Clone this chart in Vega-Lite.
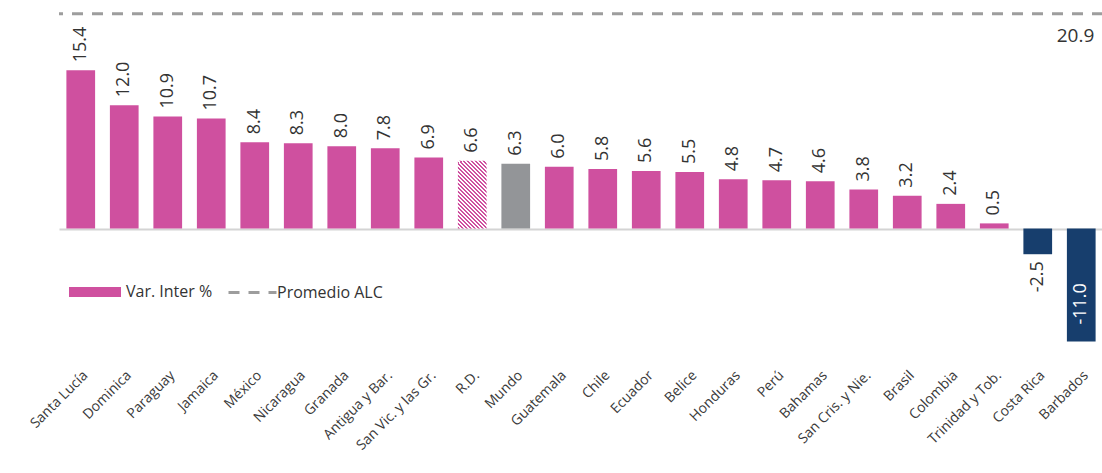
{
  "$schema": "https://vega.github.io/schema/vega-lite/v6.json",
  "width": 1044,
  "height": 352,
  "padding": {"left": 27, "top": 5, "right": 0, "bottom": 5},
  "background": "white",
  "config": {"view": {"stroke": null}, "font": "Open Sans"},
  "data": {
    "values": [
      {"pais": "Santa Lucía", "valor": 15.4, "etiqueta": "15.4", "grupo": "Var. Inter %"},
      {"pais": "Dominica", "valor": 12.0, "etiqueta": "12.0", "grupo": "Var. Inter %"},
      {"pais": "Paraguay", "valor": 10.9, "etiqueta": "10.9", "grupo": "Var. Inter %"},
      {"pais": "Jamaica", "valor": 10.7, "etiqueta": "10.7", "grupo": "Var. Inter %"},
      {"pais": "México", "valor": 8.4, "etiqueta": "8.4", "grupo": "Var. Inter %"},
      {"pais": "Nicaragua", "valor": 8.3, "etiqueta": "8.3", "grupo": "Var. Inter %"},
      {"pais": "Granada", "valor": 8.0, "etiqueta": "8.0", "grupo": "Var. Inter %"},
      {"pais": "Antigua y Bar.", "valor": 7.8, "etiqueta": "7.8", "grupo": "Var. Inter %"},
      {"pais": "San Vic. y las Gr.", "valor": 6.9, "etiqueta": "6.9", "grupo": "Var. Inter %"},
      {"pais": "R.D.", "valor": 6.6, "etiqueta": "6.6", "grupo": "R.D."},
      {"pais": "Mundo", "valor": 6.3, "etiqueta": "6.3", "grupo": "Mundo"},
      {"pais": "Guatemala", "valor": 6.0, "etiqueta": "6.0", "grupo": "Var. Inter %"},
      {"pais": "Chile", "valor": 5.8, "etiqueta": "5.8", "grupo": "Var. Inter %"},
      {"pais": "Ecuador", "valor": 5.6, "etiqueta": "5.6", "grupo": "Var. Inter %"},
      {"pais": "Belice", "valor": 5.5, "etiqueta": "5.5", "grupo": "Var. Inter %"},
      {"pais": "Honduras", "valor": 4.8, "etiqueta": "4.8", "grupo": "Var. Inter %"},
      {"pais": "Perú", "valor": 4.7, "etiqueta": "4.7", "grupo": "Var. Inter %"},
      {"pais": "Bahamas", "valor": 4.6, "etiqueta": "4.6", "grupo": "Var. Inter %"},
      {"pais": "San Cris. y Nie.", "valor": 3.8, "etiqueta": "3.8", "grupo": "Var. Inter %"},
      {"pais": "Brasil", "valor": 3.2, "etiqueta": "3.2", "grupo": "Var. Inter %"},
      {"pais": "Colombia", "valor": 2.4, "etiqueta": "2.4", "grupo": "Var. Inter %"},
      {"pais": "Trinidad y Tob.", "valor": 0.5, "etiqueta": "0.5", "grupo": "Var. Inter %"},
      {"pais": "Costa Rica", "valor": -2.5, "etiqueta": "-2.5", "grupo": "Negativo"},
      {"pais": "Barbados", "valor": -11.0, "etiqueta": "-11.0", "grupo": "Negativo"}
    ]
  },
  "layer": [
    {
      "transform": [{"filter": "datum.pais !== 'R.D.'"}],
      "mark": {"type": "bar"},
      "encoding": {
        "x": {
          "field": "pais",
          "type": "nominal",
          "sort": null,
          "scale": {
            "domain": ["Santa Lucía", "Dominica", "Paraguay", "Jamaica", "México", "Nicaragua", "Granada", "Antigua y Bar.", "San Vic. y las Gr.", "R.D.", "Mundo", "Guatemala", "Chile", "Ecuador", "Belice", "Honduras", "Perú", "Bahamas", "San Cris. y Nie.", "Brasil", "Colombia", "Trinidad y Tob.", "Costa Rica", "Barbados"],
            "paddingInner": 0.34,
            "paddingOuter": 0.17
          },
          "axis": {
            "title": null,
            "ticks": false,
            "domain": false,
            "labelAngle": -45,
            "labelFont": "Open Sans",
            "labelFontSize": 14,
            "labelColor": "#3a3a3a",
            "labelPadding": 11
          }
        },
        "y": {
          "field": "valor",
          "type": "quantitative",
          "scale": {"domain": [-12.5, 21.75], "nice": false, "zero": false},
          "axis": {
            "values": [0],
            "grid": true,
            "gridColor": "#d4d4d4",
            "gridWidth": 2,
            "labels": false,
            "ticks": false,
            "domain": false,
            "title": null
          }
        },
        "color": {
          "field": "grupo",
          "type": "nominal",
          "scale": {"domain": ["Var. Inter %", "Mundo", "Negativo"], "range": ["#cf509f", "#939598", "#173e6d"]},
          "legend": {
            "values": ["Var. Inter %"],
            "title": null,
            "orient": "none",
            "legendX": 26,
            "legendY": 277,
            "padding": 0,
            "symbolType": "M-2.6,-0.5H2.6V0.5H-2.6Z",
            "symbolSize": 400,
            "symbolStrokeWidth": 0,
            "labelOffset": 21,
            "labelFont": "Open Sans",
            "labelFontSize": 16,
            "labelColor": "#333333"
          }
        }
      }
    },
    {
      "transform": [{"filter": "datum.pais === 'R.D.'"}],
      "mark": {
        "type": "bar",
        "fill": {
          "gradient": "linear",
          "x1": 0, "y1": 1, "x2": 0.518, "y2": -0.207,
          "stops": [
            {"offset": 0, "color": "#cf509f"}, {"offset": 0.0208, "color": "#cf509f"}, {"offset": 0.0208, "color": "#ffffff"}, {"offset": 0.0417, "color": "#ffffff"},
            {"offset": 0.0417, "color": "#cf509f"}, {"offset": 0.0625, "color": "#cf509f"}, {"offset": 0.0625, "color": "#ffffff"}, {"offset": 0.0833, "color": "#ffffff"},
            {"offset": 0.0833, "color": "#cf509f"}, {"offset": 0.1042, "color": "#cf509f"}, {"offset": 0.1042, "color": "#ffffff"}, {"offset": 0.125, "color": "#ffffff"},
            {"offset": 0.125, "color": "#cf509f"}, {"offset": 0.1458, "color": "#cf509f"}, {"offset": 0.1458, "color": "#ffffff"}, {"offset": 0.1667, "color": "#ffffff"},
            {"offset": 0.1667, "color": "#cf509f"}, {"offset": 0.1875, "color": "#cf509f"}, {"offset": 0.1875, "color": "#ffffff"}, {"offset": 0.2083, "color": "#ffffff"},
            {"offset": 0.2083, "color": "#cf509f"}, {"offset": 0.2292, "color": "#cf509f"}, {"offset": 0.2292, "color": "#ffffff"}, {"offset": 0.25, "color": "#ffffff"},
            {"offset": 0.25, "color": "#cf509f"}, {"offset": 0.2708, "color": "#cf509f"}, {"offset": 0.2708, "color": "#ffffff"}, {"offset": 0.2917, "color": "#ffffff"},
            {"offset": 0.2917, "color": "#cf509f"}, {"offset": 0.3125, "color": "#cf509f"}, {"offset": 0.3125, "color": "#ffffff"}, {"offset": 0.3333, "color": "#ffffff"},
            {"offset": 0.3333, "color": "#cf509f"}, {"offset": 0.3542, "color": "#cf509f"}, {"offset": 0.3542, "color": "#ffffff"}, {"offset": 0.375, "color": "#ffffff"},
            {"offset": 0.375, "color": "#cf509f"}, {"offset": 0.3958, "color": "#cf509f"}, {"offset": 0.3958, "color": "#ffffff"}, {"offset": 0.4167, "color": "#ffffff"},
            {"offset": 0.4167, "color": "#cf509f"}, {"offset": 0.4375, "color": "#cf509f"}, {"offset": 0.4375, "color": "#ffffff"}, {"offset": 0.4583, "color": "#ffffff"},
            {"offset": 0.4583, "color": "#cf509f"}, {"offset": 0.4792, "color": "#cf509f"}, {"offset": 0.4792, "color": "#ffffff"}, {"offset": 0.5, "color": "#ffffff"},
            {"offset": 0.5, "color": "#cf509f"}, {"offset": 0.5208, "color": "#cf509f"}, {"offset": 0.5208, "color": "#ffffff"}, {"offset": 0.5417, "color": "#ffffff"},
            {"offset": 0.5417, "color": "#cf509f"}, {"offset": 0.5625, "color": "#cf509f"}, {"offset": 0.5625, "color": "#ffffff"}, {"offset": 0.5833, "color": "#ffffff"},
            {"offset": 0.5833, "color": "#cf509f"}, {"offset": 0.6042, "color": "#cf509f"}, {"offset": 0.6042, "color": "#ffffff"}, {"offset": 0.625, "color": "#ffffff"},
            {"offset": 0.625, "color": "#cf509f"}, {"offset": 0.6458, "color": "#cf509f"}, {"offset": 0.6458, "color": "#ffffff"}, {"offset": 0.6667, "color": "#ffffff"},
            {"offset": 0.6667, "color": "#cf509f"}, {"offset": 0.6875, "color": "#cf509f"}, {"offset": 0.6875, "color": "#ffffff"}, {"offset": 0.7083, "color": "#ffffff"},
            {"offset": 0.7083, "color": "#cf509f"}, {"offset": 0.7292, "color": "#cf509f"}, {"offset": 0.7292, "color": "#ffffff"}, {"offset": 0.75, "color": "#ffffff"},
            {"offset": 0.75, "color": "#cf509f"}, {"offset": 0.7708, "color": "#cf509f"}, {"offset": 0.7708, "color": "#ffffff"}, {"offset": 0.7917, "color": "#ffffff"},
            {"offset": 0.7917, "color": "#cf509f"}, {"offset": 0.8125, "color": "#cf509f"}, {"offset": 0.8125, "color": "#ffffff"}, {"offset": 0.8333, "color": "#ffffff"},
            {"offset": 0.8333, "color": "#cf509f"}, {"offset": 0.8542, "color": "#cf509f"}, {"offset": 0.8542, "color": "#ffffff"}, {"offset": 0.875, "color": "#ffffff"},
            {"offset": 0.875, "color": "#cf509f"}, {"offset": 0.8958, "color": "#cf509f"}, {"offset": 0.8958, "color": "#ffffff"}, {"offset": 0.9167, "color": "#ffffff"},
            {"offset": 0.9167, "color": "#cf509f"}, {"offset": 0.9375, "color": "#cf509f"}, {"offset": 0.9375, "color": "#ffffff"}, {"offset": 0.9583, "color": "#ffffff"},
            {"offset": 0.9583, "color": "#cf509f"}, {"offset": 0.9792, "color": "#cf509f"}, {"offset": 0.9792, "color": "#ffffff"}, {"offset": 1, "color": "#ffffff"}
          ]
        }
      },
      "encoding": {
        "x": {"field": "pais", "type": "nominal", "sort": null},
        "y": {"field": "valor", "type": "quantitative"}
      }
    },
    {
      "transform": [{"filter": "datum.valor >= 0"}],
      "mark": {"type": "text", "angle": 270, "align": "left", "baseline": "middle", "dx": 8, "font": "Open Sans", "fontSize": 18, "color": "#333333"},
      "encoding": {
        "x": {"field": "pais", "type": "nominal", "sort": null},
        "y": {"field": "valor", "type": "quantitative"},
        "text": {"field": "etiqueta", "type": "nominal"}
      }
    },
    {
      "transform": [{"filter": "datum.valor < 0 && datum.valor > -5"}],
      "mark": {"type": "text", "angle": 270, "align": "right", "baseline": "middle", "dx": -7, "font": "Open Sans", "fontSize": 18, "color": "#333333"},
      "encoding": {
        "x": {"field": "pais", "type": "nominal", "sort": null},
        "y": {"field": "valor", "type": "quantitative"},
        "text": {"field": "etiqueta", "type": "nominal"}
      }
    },
    {
      "transform": [{"filter": "datum.valor <= -5"}],
      "mark": {"type": "text", "angle": 270, "align": "left", "baseline": "middle", "dx": 17, "font": "Open Sans", "fontSize": 18, "color": "#ffffff"},
      "encoding": {
        "x": {"field": "pais", "type": "nominal", "sort": null},
        "y": {"field": "valor", "type": "quantitative"},
        "text": {"field": "etiqueta", "type": "nominal"}
      }
    },
    {
      "data": {"values": [{"serie": "Promedio ALC", "promedio": 20.9}]},
      "mark": {"type": "rule", "color": "#9d9d9d", "strokeWidth": 3},
      "encoding": {
        "y": {"field": "promedio", "type": "quantitative"},
        "strokeDash": {
          "field": "serie",
          "type": "nominal",
          "scale": {"range": [[11, 9]]},
          "legend": {
            "title": null,
            "orient": "none",
            "legendX": 168,
            "legendY": 262,
            "padding": 0,
            "symbolType": "stroke",
            "symbolSize": 2304,
            "symbolStrokeWidth": 3,
            "symbolStrokeColor": "#9d9d9d",
            "labelOffset": -1,
            "labelFont": "Open Sans",
            "labelFontSize": 16,
            "labelColor": "#333333"
          }
        }
      }
    },
    {
      "data": {"values": [{"serie": "Promedio ALC", "promedio": 20.9}]},
      "mark": {"type": "text", "align": "right", "baseline": "top", "dx": 13, "dy": 13, "font": "Open Sans", "fontSize": 19, "color": "#333333"},
      "encoding": {
        "x": {"datum": "Barbados", "type": "nominal"},
        "y": {"field": "promedio", "type": "quantitative"},
        "text": {"field": "promedio", "type": "quantitative", "format": ".1f"}
      }
    }
  ]
}
